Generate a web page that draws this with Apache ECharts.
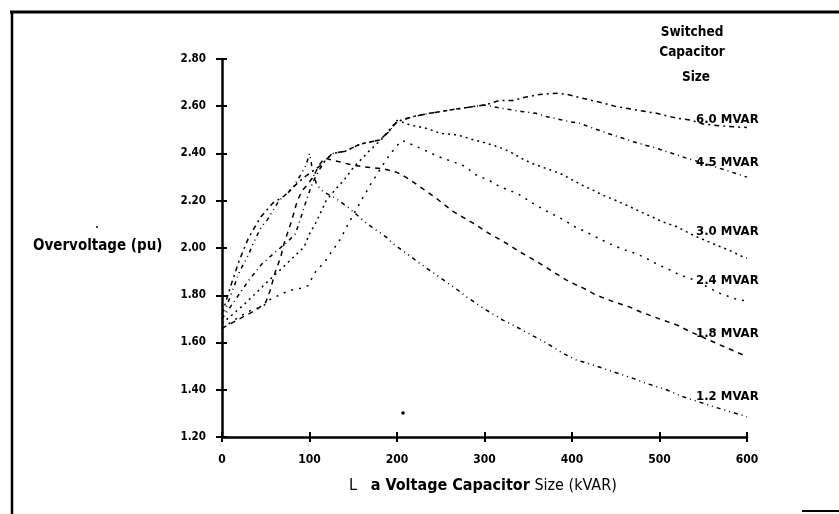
<!DOCTYPE html>
<html><head><meta charset="utf-8">
<script src="https://cdn.jsdelivr.net/npm/echarts@6/dist/echarts.min.js"></script>
<style>html,body{margin:0;padding:0;background:#fff}#c{width:839px;height:514px}</style>
</head><body><div id="c"></div>
<script>
// ---- data ----
const xTickValues = [0, 100, 200, 300, 400, 500, 600];
const yTickValues = [1.20, 1.40, 1.60, 1.80, 2.00, 2.20, 2.40, 2.60, 2.80];
const seriesNames = ['6.0 MVAR', '4.5 MVAR', '3.0 MVAR', '2.4 MVAR', '1.8 MVAR', '1.2 MVAR'];

const s60 = [[0,1.72],[10,1.84],[20,1.95],[30,2.04],[44,2.13],[58,2.19],[71,2.22],[82,2.26],[94,2.30],[102,2.32],[113,2.35],[126,2.40],[141,2.41],[158,2.44],[180,2.457],[190,2.49],[200,2.535],[218,2.556],[237,2.57],[260,2.584],[286,2.598],[300,2.605],[317,2.624],[332,2.624],[346,2.638],[363,2.65],[384,2.655],[395,2.65],[412,2.634],[434,2.615],[451,2.598],[474,2.584],[497,2.57],[520,2.549],[535,2.542],[550,2.525],[575,2.515],[600,2.51]];
const s45 = [[0,1.70],[15,1.78],[30,1.86],[45,1.93],[60,1.98],[73,2.02],[84,2.06],[92,2.15],[98,2.22],[104,2.28],[111,2.33],[118,2.37],[126,2.40],[141,2.41],[158,2.44],[180,2.457],[190,2.49],[200,2.535],[218,2.556],[237,2.57],[260,2.584],[286,2.598],[300,2.605],[310,2.598],[321,2.591],[332,2.584],[344,2.577],[359,2.57],[371,2.556],[380,2.549],[397,2.535],[409,2.528],[424,2.507],[441,2.485],[455,2.468],[470,2.45],[483,2.436],[497,2.422],[508,2.408],[520,2.394],[531,2.38],[550,2.36],[575,2.33],[600,2.30]];
const s30 = [[0,1.68],[25,1.76],[50,1.85],[73,1.93],[94,2.005],[100,2.06],[107,2.105],[119,2.20],[130,2.25],[140,2.29],[150,2.34],[168,2.41],[185,2.47],[200,2.54],[216,2.52],[233,2.507],[250,2.485],[270,2.478],[288,2.457],[300,2.446],[315,2.429],[329,2.408],[342,2.38],[353,2.36],[370,2.337],[386,2.316],[397,2.295],[411,2.267],[424,2.245],[435,2.224],[449,2.203],[466,2.175],[478,2.154],[495,2.126],[504,2.11],[520,2.09],[527,2.076],[538,2.055],[560,2.02],[580,1.99],[595,1.963],[600,1.957]];
const s24 = [[0,1.66],[20,1.71],[35,1.74],[46,1.75],[54,1.78],[65,1.80],[77,1.82],[90,1.83],[98,1.84],[107,1.90],[117,1.94],[134,2.03],[147,2.12],[159,2.20],[170,2.27],[187,2.37],[199,2.43],[206,2.455],[222,2.43],[231,2.415],[248,2.386],[264,2.365],[277,2.347],[290,2.31],[306,2.285],[317,2.26],[338,2.23],[355,2.19],[369,2.16],[390,2.12],[403,2.09],[415,2.07],[434,2.034],[449,2.008],[462,1.99],[474,1.975],[485,1.956],[498,1.93],[512,1.907],[523,1.886],[535,1.872],[569,1.808],[588,1.783],[600,1.775]];
const s18 = [[0,1.66],[20,1.70],[40,1.74],[50,1.77],[55,1.82],[61,1.90],[67,1.96],[71,2.02],[80,2.12],[86,2.20],[92,2.245],[98,2.27],[104,2.30],[111,2.35],[117,2.38],[134,2.365],[150,2.35],[170,2.34],[185,2.335],[200,2.32],[210,2.30],[226,2.26],[245,2.21],[264,2.155],[287,2.105],[306,2.06],[325,2.02],[342,1.98],[361,1.94],[378,1.90],[397,1.857],[413,1.83],[428,1.80],[447,1.773],[466,1.75],[478,1.73],[500,1.70],[520,1.674],[535,1.646],[569,1.59],[600,1.54]];
const s12 = [[0,1.70],[10,1.80],[20,1.90],[30,1.97],[37,2.03],[45,2.09],[52,2.12],[65,2.20],[80,2.25],[90,2.31],[96,2.35],[100,2.40],[104,2.32],[108,2.27],[115,2.24],[130,2.21],[145,2.17],[165,2.105],[187,2.048],[195,2.02],[216,1.963],[226,1.935],[245,1.886],[256,1.857],[271,1.818],[279,1.794],[300,1.742],[321,1.695],[336,1.667],[352,1.635],[371,1.597],[390,1.554],[405,1.526],[424,1.505],[447,1.476],[470,1.448],[485,1.427],[508,1.40],[527,1.37],[569,1.32],[600,1.286]];

const allSeries = [s60, s45, s30, s24, s18, s12];
const dashTypes = [[5,4,2,4],[4,4,1,4],[2,4],[2,6],[5,5],[4,4,1,4,1,4]];

const FONT = "'DejaVu Sans Condensed','DejaVu Sans',sans-serif";
const chart = echarts.init(document.getElementById('c'), null, {renderer:'canvas'});

const axisBase = { type:'value', splitLine:{show:false} };
const option = {
  animation:false,
  backgroundColor:'#fff',
  grid:{left:222, right:92, top:59, bottom:77, containLabel:false},
  xAxis:[
    Object.assign({}, axisBase, {
      min:0, max:600, interval:100,
      axisLine:{show:true, lineStyle:{color:'#000', width:2.5}},
      axisTick:{show:true, inside:false, length:5, lineStyle:{color:'#000', width:2}},
      axisLabel:{color:'#000', fontFamily:FONT, fontWeight:'bold', fontSize:12, margin:17,
        formatter:v => xTickValues.includes(v) ? String(v) : ''}
    }),
    Object.assign({}, axisBase, {
      min:0, max:600, interval:100, position:'bottom',
      axisLine:{show:false},
      axisTick:{show:true, inside:true, length:5, lineStyle:{color:'#000', width:2}},
      axisLabel:{show:false}
    })
  ],
  yAxis:[
    Object.assign({}, axisBase, {
      min:1.2, max:2.8, interval:0.2,
      axisLine:{show:true, lineStyle:{color:'#000', width:2.5}},
      axisTick:{show:true, inside:false, length:6, lineStyle:{color:'#000', width:2}},
      axisLabel:{color:'#000', fontFamily:FONT, fontWeight:'bold', fontSize:11.5, margin:16,
        formatter:v => v.toFixed(2)}
    }),
    Object.assign({}, axisBase, {
      min:1.2, max:2.8, interval:0.2, position:'left',
      axisLine:{show:false},
      axisTick:{show:true, inside:true, length:5, lineStyle:{color:'#000', width:2}},
      axisLabel:{show:false}
    })
  ],
  series: allSeries.map((d, i) => ({
    name: seriesNames[i],
    type:'line',
    data:d,
    xAxisIndex:0, yAxisIndex:0,
    symbol:'none',
    smooth:false,
    lineStyle:{color:'#000', width:1.5, type:dashTypes[i]}
  }))
};
chart.setOption(option);

// Text elements (titles and series labels)
const labelPos = [[696,120],[696,163],[696,232],[696,281],[696,334],[696,397]];
const g = [];
g.push({type:'text', left:33, top:239, style:{text:'Overvoltage (pu)', font:"bold 15px "+FONT, fill:'#000'}});
g.push({type:'text', left:349, top:478, style:{
  text:'{n|L   }{b|a Voltage Capacitor}{n| Size (kVAR)}',
  rich:{n:{font:"16px "+FONT, fill:'#000'}, b:{font:"bold 16px "+FONT, fill:'#000'}}}});
g.push({type:'text', x:692, y:32, style:{text:'Switched', font:"bold 13.5px "+FONT, fill:'#000', align:'center', verticalAlign:'middle'}});
g.push({type:'text', x:692, y:52, style:{text:'Capacitor', font:"bold 13.5px "+FONT, fill:'#000', align:'center', verticalAlign:'middle'}});
g.push({type:'text', x:696, y:77, style:{text:'Size', font:"bold 13.5px "+FONT, fill:'#000', align:'center', verticalAlign:'middle'}});
seriesNames.forEach((n, i) => {
  g.push({type:'text', x:labelPos[i][0], y:labelPos[i][1], style:{text:n, font:"bold 13px "+FONT, fill:'#000', verticalAlign:'middle'}});
});
// frame and scan specks
g.push({type:'line', shape:{x1:10, y1:12, x2:839, y2:12}, style:{stroke:'#000', lineWidth:3}});
g.push({type:'line', shape:{x1:12, y1:12, x2:12, y2:514}, style:{stroke:'#000', lineWidth:2.5}});
g.push({type:'line', shape:{x1:802, y1:511, x2:839, y2:511}, style:{stroke:'#000', lineWidth:2}});
g.push({type:'circle', shape:{cx:403, cy:413, r:1.8}, style:{fill:'#000'}});
g.push({type:'circle', shape:{cx:97, cy:227, r:1}, style:{fill:'#000'}});
chart.setOption({graphic:g});
</script></body></html>
